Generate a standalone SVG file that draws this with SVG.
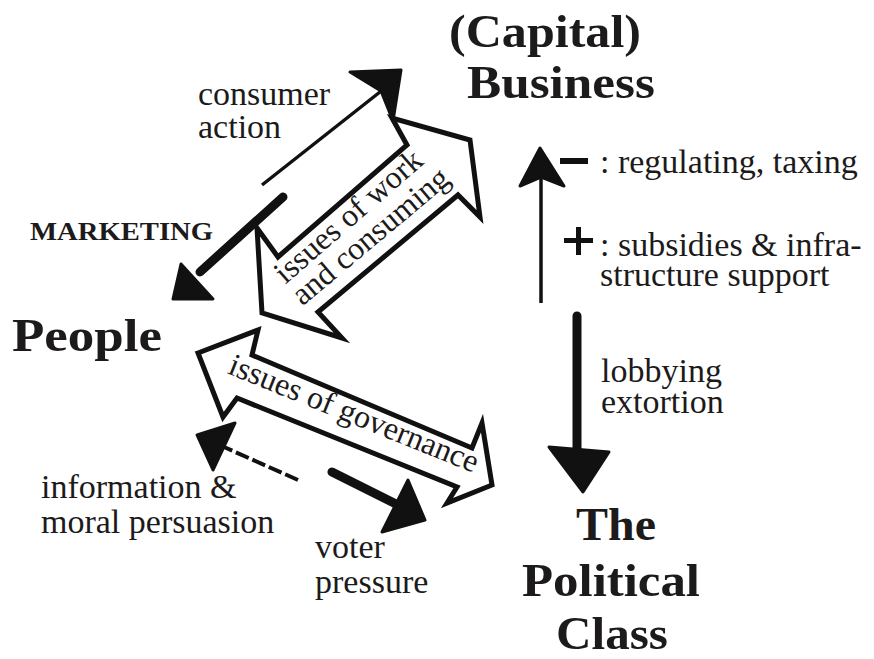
<svg xmlns="http://www.w3.org/2000/svg" width="874" height="659" viewBox="0 0 874 659">
  <style>
    .lbl { font-family: "Liberation Serif", "DejaVu Serif", serif; font-size: 34px; fill: #1c1a1a; }
    .title { font-family: "Liberation Serif", "DejaVu Serif", serif; font-size: 47px; font-weight: bold; fill: #1c1a1a; }
    .caps { font-family: "Liberation Serif", "DejaVu Serif", serif; font-size: 26px; font-weight: bold; fill: #1c1a1a; }
    .band { fill: #ffffff; stroke: #111; stroke-width: 5; stroke-linejoin: miter; }
    .band-text { font-family: "Liberation Serif", "DejaVu Serif", serif; font-size: 32px; fill: #1c1a1a; text-anchor: middle; }
    .thin { stroke: #111; stroke-width: 3.5; fill: none; }
    .thick { stroke: #111; stroke-width: 9; stroke-linecap: round; fill: none; }
    .head { fill: #111; stroke: #111; stroke-width: 3; stroke-linejoin: round; }
  </style>

  <!-- Nodes -->
  <g id="business">
    <text class="title" x="449" y="47" textLength="192" lengthAdjust="spacingAndGlyphs">(Capital)</text>
    <text class="title" x="467" y="98" textLength="188" lengthAdjust="spacingAndGlyphs">Business</text>
  </g>
  <g id="people">
    <text class="title" x="12" y="351" textLength="150" lengthAdjust="spacingAndGlyphs">People</text>
  </g>
  <g id="political-class">
    <text class="title" x="576" y="540" textLength="80" lengthAdjust="spacingAndGlyphs">The</text>
    <text class="title" x="522" y="596" textLength="178" lengthAdjust="spacingAndGlyphs">Political</text>
    <text class="title" x="556" y="649" textLength="112" lengthAdjust="spacingAndGlyphs">Class</text>
  </g>

  <!-- Connectors -->
  <g id="connectors">
    <!-- consumer action: People to Business -->
    <g id="consumer-action">
      <line class="thin" x1="262" y1="185" x2="385" y2="88"/>
      <polygon class="head" points="350,72 401,70 393,121 381,91" stroke-width="1"/>
      <text class="lbl" x="198" y="105">consumer</text>
      <text class="lbl" x="198" y="138">action</text>
    </g>

    <!-- marketing: Business to People -->
    <g id="marketing">
      <line class="thick" x1="283" y1="197" x2="200" y2="272"/>
      <polygon class="head" points="181,264 213,299 173,299" stroke-width="5"/>
      <text class="caps" x="30" y="240" textLength="183" lengthAdjust="spacingAndGlyphs">MARKETING</text>
    </g>

    <!-- issues of work and consuming (two-way band) -->
    <g id="work-consuming">
      <polygon class="band" points="470,140 480,217 458,195 318,312 342,338 262,313 257,228 278,257 407,145 392,118"/>
      <text class="band-text" transform="translate(355,224) rotate(-41)">issues of work</text>
      <text class="band-text" transform="translate(377,244) rotate(-40)">and consuming</text>
    </g>

    <!-- issues of governance (two-way band) -->
    <g id="governance">
      <polygon class="band" points="198,353 258,330 252,355 472,448 482,423 492,485 447,503 457,487 237,398 223,417"/>
      <text class="band-text" font-size="34" transform="translate(350,423) rotate(22)">issues of governance</text>
    </g>

    <!-- information & moral persuasion: Political Class to People -->
    <g id="persuasion">
      <line x1="298" y1="480" x2="224" y2="447" stroke="#111" stroke-width="4" stroke-dasharray="14 4"/>
      <polygon class="head" points="197,435 235,423 213,470" stroke-width="2"/>
      <text class="lbl" x="41" y="498">information &amp;</text>
      <text class="lbl" x="41" y="533">moral persuasion</text>
    </g>

    <!-- voter pressure: People to Political Class -->
    <g id="voter-pressure">
      <line class="thick" x1="332" y1="472" x2="398" y2="505"/>
      <polygon class="head" points="408,480 425,520 382,532" stroke-width="2"/>
      <text class="lbl" x="315" y="558">voter</text>
      <text class="lbl" x="315" y="593">pressure</text>
    </g>

    <!-- regulating / subsidies: Political Class to Business -->
    <g id="regulation">
      <line class="thin" x1="541" y1="303" x2="541" y2="172"/>
      <polygon class="head" points="540,148 520,186 541,177 564,186" stroke-width="1"/>
      <rect x="560" y="158" width="28" height="6" fill="#111"/>
      <rect x="564" y="238" width="29" height="5" fill="#111"/>
      <rect x="576" y="227" width="5" height="28" fill="#111"/>
      <text class="lbl" x="600" y="173">: regulating, taxing</text>
      <text class="lbl" x="600" y="256">: subsidies &amp; infra-</text>
      <text class="lbl" x="600" y="286">structure support</text>
    </g>

    <!-- lobbying / extortion: Business to Political Class -->
    <g id="lobbying">
      <line class="thick" x1="577" y1="316" x2="577" y2="462" stroke-width="10"/>
      <polygon class="head" points="549,447 609,452 583,492" stroke-width="6"/>
      <text class="lbl" x="601" y="382">lobbying</text>
      <text class="lbl" x="601" y="413">extortion</text>
    </g>
  </g>
</svg>
